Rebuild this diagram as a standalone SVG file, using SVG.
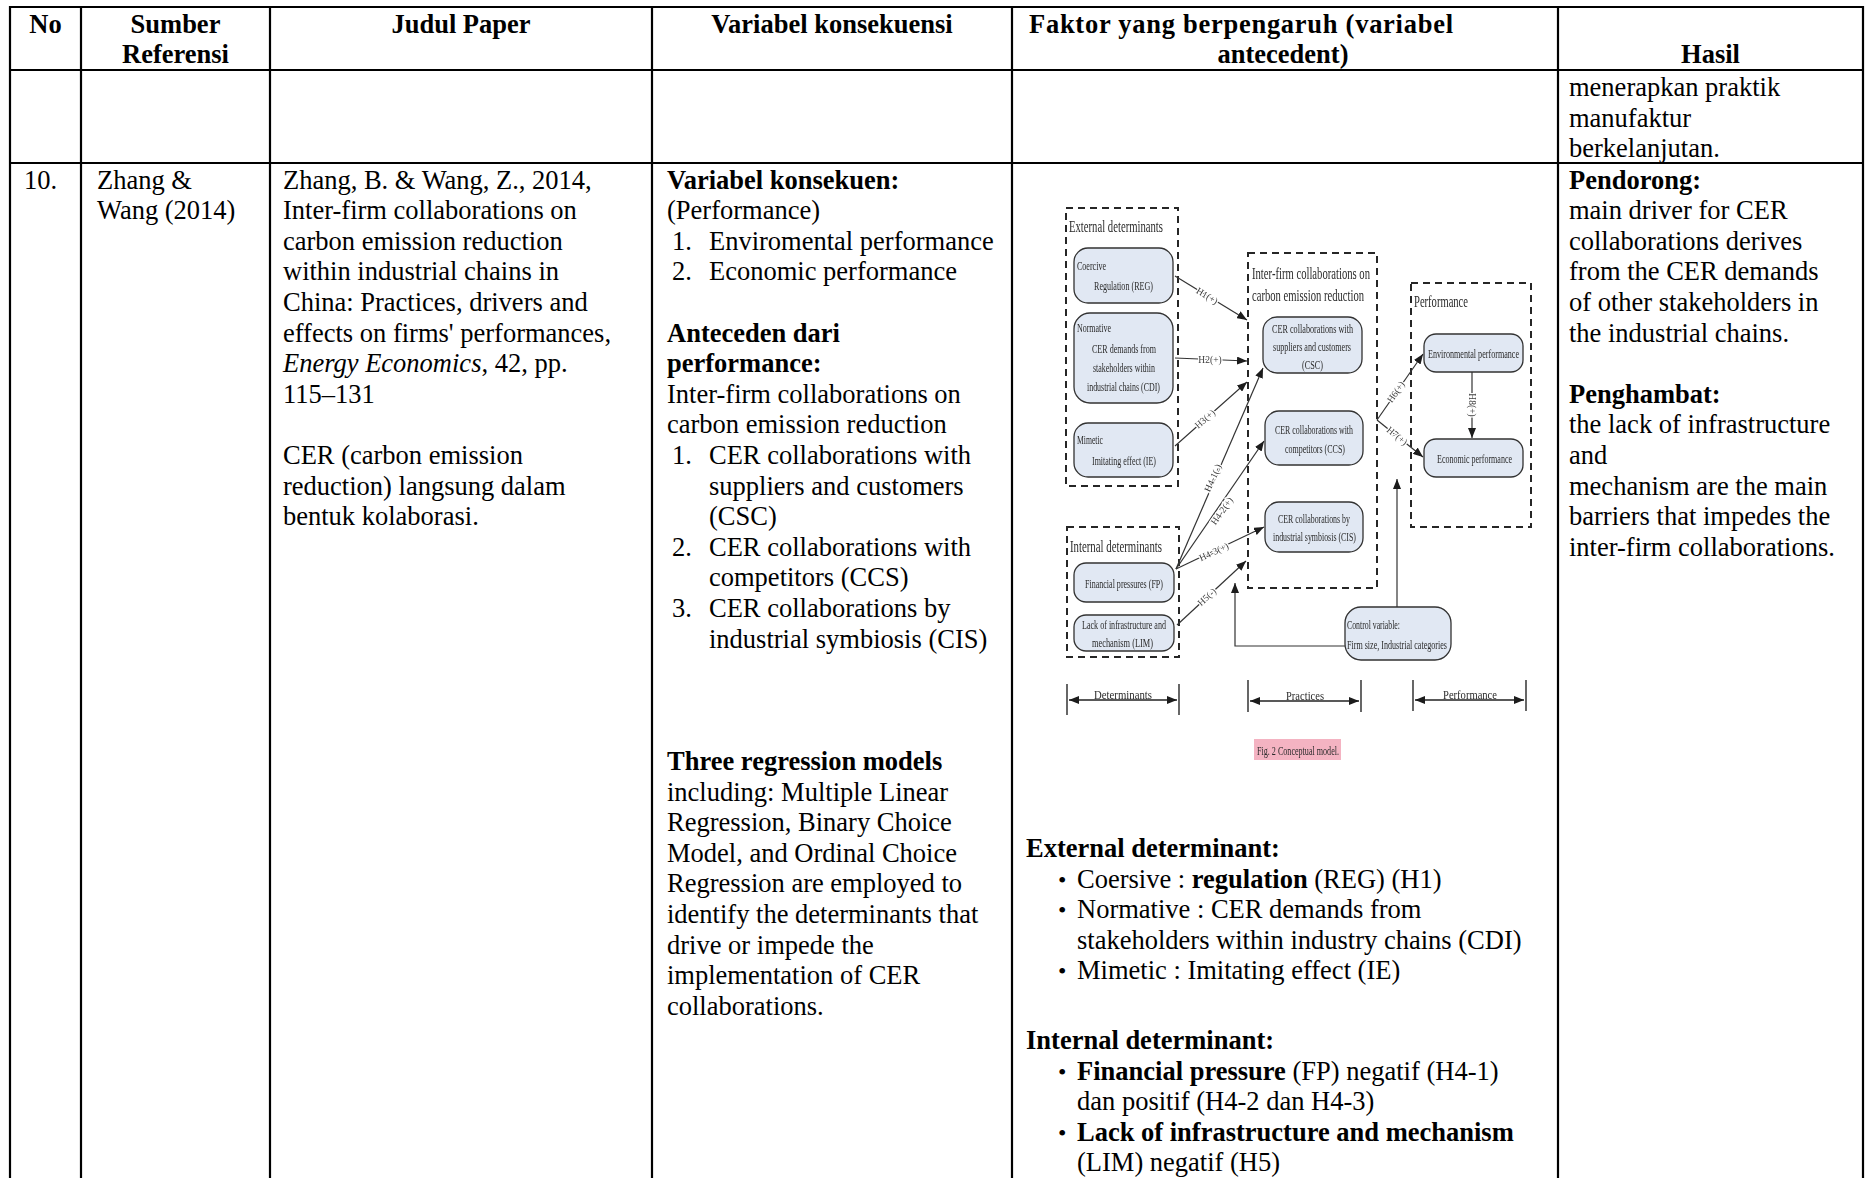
<svg xmlns="http://www.w3.org/2000/svg" width="1867" height="1178" viewBox="0 0 1867 1178">
  <style>
    .t { font-family: "Liberation Serif", "Times New Roman", serif; font-size: 26.5px; fill: #000; }
    .b { font-weight: bold; }
    .c { text-anchor: middle; }
    .bul { font-size: 24px; }
    .grid { stroke: #000; stroke-width: 2.2; fill: none; }
    .dbox { fill: none; stroke: #262626; stroke-width: 2; stroke-dasharray: 7 5; }
    .node { fill: #e1e8f3; stroke: #333; stroke-width: 1.3; }
    .ft { font-family: "Liberation Serif", "Times New Roman", serif; fill: #2b2b2b; font-size: 13.5px; }
    .ttl { font-size: 16px; }
    .conn { stroke: #333; stroke-width: 1.2; fill: none; marker-end: url(#ah); }
    .span { stroke: #222; stroke-width: 1.5; fill: none; marker-start: url(#ah2); marker-end: url(#ah2); }
    .tick { stroke: #555; stroke-width: 1.8; }
    .hl { font-family: "Liberation Serif", serif; font-size: 9.5px; fill: #3c3c3c; text-anchor: middle; dominant-baseline: central; paint-order: stroke; stroke: #fff; stroke-width: 2.5px; }
  </style>
  <defs>
    <marker id="ah" markerUnits="userSpaceOnUse" markerWidth="10" markerHeight="8" refX="10" refY="4" orient="auto">
      <path d="M0,0 L10,4 L0,8 z" fill="#1a1a1a"/>
    </marker>
    <marker id="ah2" markerUnits="userSpaceOnUse" markerWidth="10" markerHeight="8" refX="10" refY="4" orient="auto-start-reverse">
      <path d="M0,0 L10,4 L0,8 z" fill="#1a1a1a"/>
    </marker>
    <filter id="soft" x="-5%" y="-5%" width="110%" height="110%">
      <feGaussianBlur stdDeviation="0.45"/>
    </filter>
  </defs>

  <rect width="1867" height="1178" fill="#fff"/>

  <!-- table grid -->
  <g id="table-grid" class="grid">
    <line x1="9" y1="7" x2="1864" y2="7"/>
    <line x1="9" y1="70" x2="1864" y2="70"/>
    <line x1="9" y1="163" x2="1864" y2="163"/>
    <line x1="10" y1="6" x2="10" y2="1178"/>
    <line x1="81" y1="6" x2="81" y2="1178"/>
    <line x1="270" y1="6" x2="270" y2="1178"/>
    <line x1="652" y1="6" x2="652" y2="1178"/>
    <line x1="1012" y1="6" x2="1012" y2="1178"/>
    <line x1="1558" y1="6" x2="1558" y2="1178"/>
    <line x1="1863" y1="6" x2="1863" y2="1178"/>
  </g>

  <!-- header row -->
  <g id="header" class="t b">
    <text class="c" x="45.5" y="33">No</text>
    <text class="c" x="175.5" y="33">Sumber</text>
    <text class="c" x="175.5" y="63">Referensi</text>
    <text class="c" x="461" y="33">Judul Paper</text>
    <text class="c" x="832" y="33">Variabel konsekuensi</text>
    <text x="1029" y="33" textLength="424" lengthAdjust="spacing">Faktor yang berpengaruh (variabel</text>
    <text class="c" x="1283" y="63">antecedent)</text>
    <text class="c" x="1710.5" y="63">Hasil</text>
  </g>

  <!-- carried-over row -->
  <g id="row-prev" class="t">
    <text x="1569" y="96">menerapkan praktik</text>
    <text x="1569" y="126.5">manufaktur</text>
    <text x="1569" y="157">berkelanjutan.</text>
  </g>

  <!-- row 10: number and source -->
  <g id="cell-no" class="t">
    <text x="24" y="188.5">10.</text>
  </g>
  <g id="cell-sumber" class="t">
    <text x="97" y="188.5">Zhang &amp;</text>
    <text x="97" y="219.1">Wang (2014)</text>
  </g>

  <!-- row 10: paper title -->
  <g id="cell-judul" class="t">
    <text x="283" y="188.5">Zhang, B. &amp; Wang, Z., 2014,</text>
    <text x="283" y="219.1">Inter-firm collaborations on</text>
    <text x="283" y="249.7">carbon emission reduction</text>
    <text x="283" y="280.3">within industrial chains in</text>
    <text x="283" y="310.9">China: Practices, drivers and</text>
    <text x="283" y="341.5">effects on firms' performances,</text>
    <text x="283" y="372.1"><tspan font-style="italic">Energy Economics</tspan>, 42, pp.</text>
    <text x="283" y="402.7">115–131</text>
    <text x="283" y="463.9">CER (carbon emission</text>
    <text x="283" y="494.5">reduction) langsung dalam</text>
    <text x="283" y="525.1">bentuk kolaborasi.</text>
  </g>

  <!-- row 10: consequence variables -->
  <g id="cell-variabel" class="t">
    <text class="b" x="667" y="188.5">Variabel konsekuen:</text>
    <text x="667" y="219.1">(Performance)</text>
    <text x="672" y="249.7">1.</text><text x="709" y="249.7">Enviromental performance</text>
    <text x="672" y="280.3">2.</text><text x="709" y="280.3">Economic performance</text>
    <text class="b" x="667" y="341.5">Anteceden dari</text>
    <text class="b" x="667" y="372.1">performance:</text>
    <text x="667" y="402.7">Inter-firm collaborations on</text>
    <text x="667" y="433.3">carbon emission reduction</text>
    <text x="672" y="463.9">1.</text><text x="709" y="463.9">CER collaborations with</text>
    <text x="709" y="494.5">suppliers and customers</text>
    <text x="709" y="525.1">(CSC)</text>
    <text x="672" y="555.7">2.</text><text x="709" y="555.7">CER collaborations with</text>
    <text x="709" y="586.3">competitors (CCS)</text>
    <text x="672" y="616.9">3.</text><text x="709" y="616.9">CER collaborations by</text>
    <text x="709" y="647.5">industrial symbiosis (CIS)</text>
    <text class="b" x="667" y="769.9">Three regression models</text>
    <text x="667" y="800.5">including: Multiple Linear</text>
    <text x="667" y="831.1">Regression, Binary Choice</text>
    <text x="667" y="861.7">Model, and Ordinal Choice</text>
    <text x="667" y="892.3">Regression are employed to</text>
    <text x="667" y="922.9">identify the determinants that</text>
    <text x="667" y="953.5">drive or impede the</text>
    <text x="667" y="984.1">implementation of CER</text>
    <text x="667" y="1014.7">collaborations.</text>
  </g>

  <!-- row 10: antecedent factors (text below the model) -->
  <g id="cell-faktor" class="t">
    <text class="b" x="1026" y="857">External determinant:</text>
    <text class="bul" x="1058" y="887.5">•</text><text x="1077" y="887.5">Coersive : <tspan font-weight="bold">regulation</tspan> (REG) (H1)</text>
    <text class="bul" x="1058" y="918">•</text><text x="1077" y="918">Normative : CER demands from</text>
    <text x="1077" y="948.5">stakeholders within industry chains (CDI)</text>
    <text class="bul" x="1058" y="979">•</text><text x="1077" y="979">Mimetic : Imitating effect (IE)</text>
    <text class="b" x="1026" y="1049">Internal determinant:</text>
    <text class="bul" x="1058" y="1079.5">•</text><text x="1077" y="1079.5"><tspan font-weight="bold">Financial pressure</tspan> (FP) negatif (H4-1)</text>
    <text x="1077" y="1110">dan positif (H4-2 dan H4-3)</text>
    <text class="bul" x="1058" y="1140.5">•</text><text class="b" x="1077" y="1140.5">Lack of infrastructure and mechanism</text>
    <text x="1077" y="1171">(LIM) negatif (H5)</text>
  </g>

  <!-- row 10: results -->
  <g id="cell-hasil" class="t">
    <text class="b" x="1569" y="188.5">Pendorong:</text>
    <text x="1569" y="219.1">main driver for CER</text>
    <text x="1569" y="249.7">collaborations derives</text>
    <text x="1569" y="280.3">from the CER demands</text>
    <text x="1569" y="310.9">of other stakeholders in</text>
    <text x="1569" y="341.5">the industrial chains.</text>
    <text class="b" x="1569" y="402.7">Penghambat:</text>
    <text x="1569" y="433.3">the lack of infrastructure</text>
    <text x="1569" y="463.9">and</text>
    <text x="1569" y="494.5">mechanism are the main</text>
    <text x="1569" y="525.1">barriers that impedes the</text>
    <text x="1569" y="555.7">inter-firm collaborations.</text>
  </g>

  <!-- conceptual model figure -->
  <g id="figure" filter="url(#soft)">
    <!-- grouping frames -->
    <g id="frame-external">
      <rect class="dbox" x="1066" y="208" width="112" height="278"/>
      <text class="ft ttl" x="1069" y="232" textLength="94" lengthAdjust="spacingAndGlyphs">External determinants</text>
    </g>
    <g id="frame-practices">
      <rect class="dbox" x="1248" y="253" width="129" height="335"/>
      <text class="ft ttl" x="1252" y="279" textLength="118" lengthAdjust="spacingAndGlyphs">Inter-firm collaborations on</text>
      <text class="ft ttl" x="1252" y="301" textLength="112" lengthAdjust="spacingAndGlyphs">carbon emission reduction</text>
    </g>
    <g id="frame-performance">
      <rect class="dbox" x="1411" y="283" width="120" height="244"/>
      <text class="ft ttl" x="1414" y="307" textLength="54" lengthAdjust="spacingAndGlyphs">Performance</text>
    </g>
    <g id="frame-internal">
      <rect class="dbox" x="1067" y="527" width="112" height="130"/>
      <text class="ft ttl" x="1070" y="552" textLength="92" lengthAdjust="spacingAndGlyphs">Internal determinants</text>
    </g>

    <!-- nodes -->
    <g id="node-reg">
      <rect class="node" x="1074" y="248" width="99" height="55" rx="14"/>
      <text class="ft" x="1077" y="270" textLength="29" lengthAdjust="spacingAndGlyphs">Coercive</text>
      <text class="ft" x="1094" y="290" textLength="59" lengthAdjust="spacingAndGlyphs">Regulation (REG)</text>
    </g>
    <g id="node-cdi">
      <rect class="node" x="1074" y="313" width="99" height="90" rx="16"/>
      <text class="ft" x="1077" y="332" textLength="34" lengthAdjust="spacingAndGlyphs">Normative</text>
      <text class="ft" x="1092" y="353" textLength="64" lengthAdjust="spacingAndGlyphs">CER demands from</text>
      <text class="ft" x="1093" y="372" textLength="62" lengthAdjust="spacingAndGlyphs">stakeholders within</text>
      <text class="ft" x="1087" y="391" textLength="73" lengthAdjust="spacingAndGlyphs">industrial chains (CDI)</text>
    </g>
    <g id="node-ie">
      <rect class="node" x="1074" y="423" width="99" height="54" rx="14"/>
      <text class="ft" x="1077" y="444" textLength="26" lengthAdjust="spacingAndGlyphs">Mimetic</text>
      <text class="ft" x="1092" y="465" textLength="64" lengthAdjust="spacingAndGlyphs">Imitating effect (IE)</text>
    </g>
    <g id="node-fp">
      <rect class="node" x="1074" y="563" width="100" height="39" rx="12"/>
      <text class="ft" x="1085" y="588" textLength="78" lengthAdjust="spacingAndGlyphs">Financial pressures (FP)</text>
    </g>
    <g id="node-lim">
      <rect class="node" x="1074" y="615" width="100" height="36" rx="12"/>
      <text class="ft" x="1082" y="629" textLength="84" lengthAdjust="spacingAndGlyphs">Lack of infrastructure and</text>
      <text class="ft" x="1092" y="647" textLength="61" lengthAdjust="spacingAndGlyphs">mechanism (LIM)</text>
    </g>
    <g id="node-csc">
      <rect class="node" x="1263" y="317" width="99" height="56" rx="14"/>
      <text class="ft" x="1272" y="333" textLength="81" lengthAdjust="spacingAndGlyphs">CER collaborations with</text>
      <text class="ft" x="1273" y="351" textLength="78" lengthAdjust="spacingAndGlyphs">suppliers and customers</text>
      <text class="ft" x="1302" y="369" textLength="21" lengthAdjust="spacingAndGlyphs">(CSC)</text>
    </g>
    <g id="node-ccs">
      <rect class="node" x="1265" y="411" width="98" height="54" rx="14"/>
      <text class="ft" x="1275" y="434" textLength="78" lengthAdjust="spacingAndGlyphs">CER collaborations with</text>
      <text class="ft" x="1285" y="453" textLength="60" lengthAdjust="spacingAndGlyphs">competitors (CCS)</text>
    </g>
    <g id="node-cis">
      <rect class="node" x="1265" y="502" width="98" height="50" rx="14"/>
      <text class="ft" x="1278" y="523" textLength="72" lengthAdjust="spacingAndGlyphs">CER collaborations by</text>
      <text class="ft" x="1273" y="541" textLength="83" lengthAdjust="spacingAndGlyphs">industrial symbiosis (CIS)</text>
    </g>
    <g id="node-env">
      <rect class="node" x="1424" y="334" width="99" height="38" rx="12"/>
      <text class="ft" x="1428" y="358" textLength="91" lengthAdjust="spacingAndGlyphs">Environmental performance</text>
    </g>
    <g id="node-eco">
      <rect class="node" x="1424" y="439" width="99" height="38" rx="12"/>
      <text class="ft" x="1437" y="463" textLength="75" lengthAdjust="spacingAndGlyphs">Economic performance</text>
    </g>
    <g id="node-control">
      <rect class="node" x="1345" y="607" width="106" height="53" rx="16"/>
      <text class="ft" x="1347" y="629" textLength="53" lengthAdjust="spacingAndGlyphs">Control variable:</text>
      <text class="ft" x="1347" y="649" textLength="100" lengthAdjust="spacingAndGlyphs">Firm size, Industrial categories</text>
    </g>

    <!-- connectors -->
    <g id="connectors">
      <path class="conn" d="M1175,276 L1247,320"/>
      <path class="conn" d="M1175,358 L1247,361"/>
      <path class="conn" d="M1175,446 L1247,382"/>
      <path class="conn" d="M1176,569 L1263,368"/>
      <path class="conn" d="M1176,569 L1264,441"/>
      <path class="conn" d="M1176,569 L1264,527"/>
      <path class="conn" d="M1177,625 L1246,561"/>
      <path class="conn" d="M1377,420 L1423,354"/>
      <path class="conn" d="M1377,420 L1423,457"/>
      <path class="conn" d="M1472,372 L1472,438"/>
      <path class="conn" d="M1345,646 L1235,646 L1235,583"/>
      <path class="conn" d="M1397,607 L1397,479"/>
      <text class="hl" transform="translate(1207,296) rotate(31)">H1(+)</text>
      <text class="hl" transform="translate(1210,360)">H2(+)</text>
      <text class="hl" transform="translate(1205,419) rotate(-41)">H3(+)</text>
      <text class="hl" transform="translate(1213,478) rotate(-66)">H4-1(-)</text>
      <text class="hl" transform="translate(1222,511) rotate(-55)">H4-2(+)</text>
      <text class="hl" transform="translate(1214,552) rotate(-25)">H4-3(+)</text>
      <text class="hl" transform="translate(1207,597) rotate(-43)">H5(-)</text>
      <text class="hl" transform="translate(1396,392) rotate(-55)">H6(+)</text>
      <text class="hl" transform="translate(1397,436) rotate(39)">H7(+)</text>
      <text class="hl" transform="translate(1472,405) rotate(90)">H8(+)</text>
    </g>

    <!-- stage spans along the bottom -->
    <g id="spans">
      <line class="tick" x1="1067" y1="684" x2="1067" y2="715"/>
      <line class="tick" x1="1179" y1="684" x2="1179" y2="715"/>
      <line class="span" x1="1069" y1="700" x2="1177" y2="700"/>
      <text class="ft" x="1094" y="699" font-size="16" textLength="58" lengthAdjust="spacingAndGlyphs">Determinants</text>
      <line class="tick" x1="1248" y1="680" x2="1248" y2="712"/>
      <line class="tick" x1="1361" y1="680" x2="1361" y2="712"/>
      <line class="span" x1="1250" y1="701" x2="1359" y2="701"/>
      <text class="ft" x="1286" y="700" font-size="16" textLength="38" lengthAdjust="spacingAndGlyphs">Practices</text>
      <line class="tick" x1="1413" y1="680" x2="1413" y2="711"/>
      <line class="tick" x1="1526" y1="680" x2="1526" y2="711"/>
      <line class="span" x1="1415" y1="700" x2="1524" y2="700"/>
      <text class="ft" x="1443" y="699" font-size="16" textLength="54" lengthAdjust="spacingAndGlyphs">Performance</text>
    </g>

    <!-- caption -->
    <g id="caption">
      <rect x="1254" y="739" width="87" height="21" fill="#f4b3c2"/>
      <text class="ft" x="1257" y="755" fill="#7d1c36" textLength="82" lengthAdjust="spacingAndGlyphs">Fig. 2 Conceptual model.</text>
    </g>
  </g>
</svg>
